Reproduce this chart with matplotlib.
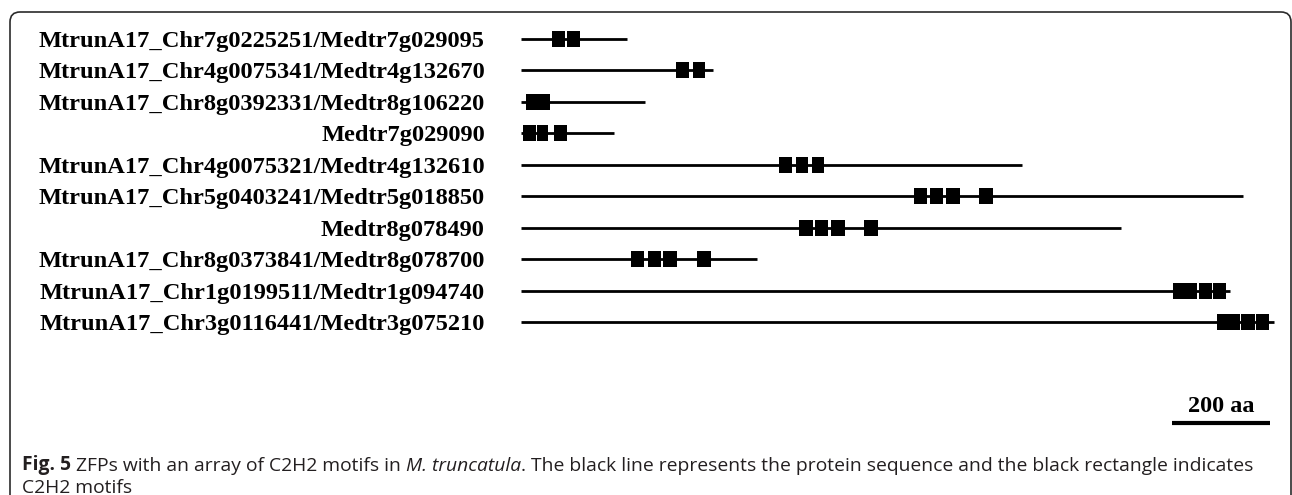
import numpy as np
import matplotlib.pyplot as plt
from matplotlib.patches import FancyBboxPatch

# protein names, lengths (aa) and C2H2 motif spans (aa)
genes = [
    "MtrunA17_Chr7g0225251/Medtr7g029095",
    "MtrunA17_Chr4g0075341/Medtr4g132670",
    "MtrunA17_Chr8g0392331/Medtr8g106220",
    "Medtr7g029090",
    "MtrunA17_Chr4g0075321/Medtr4g132610",
    "MtrunA17_Chr5g0403241/Medtr5g018850",
    "Medtr8g078490",
    "MtrunA17_Chr8g0373841/Medtr8g078700",
    "MtrunA17_Chr1g0199511/Medtr1g094740",
    "MtrunA17_Chr3g0116441/Medtr3g075210",
]
lengths = [216, 391, 253, 190, 1022, 1473, 1224, 481, 1447, 1537]
motifs = [
    [(64, 90), (94, 120)],
    [(316, 343), (350, 376)],
    [(10, 35), (35, 59)],
    [(5, 31), (32, 56), (68, 93)],
    [(527, 554), (561, 586), (593, 619)],
    [(802, 829), (835, 861), (867, 895), (935, 963)],
    [(567, 595), (600, 627), (633, 661), (701, 729)],
    [(224, 252), (259, 285), (290, 318), (360, 388)],
    [(1331, 1355), (1355, 1379), (1383, 1410), (1412, 1439)],
    [(1420, 1444), (1444, 1467), (1470, 1497), (1500, 1527)],
]
scale_len = 200
scale_start = 1329
scale_label = "200 aa"

caption_bold = "Fig. 5"
caption_a = " ZFPs with an array of C2H2 motifs in "
caption_it = "M. truncatula"
caption_b = ". The black line represents the protein sequence and the black rectangle indicates"
caption_2 = "C2H2 motifs"

W, H = 1292, 495
fig = plt.figure(figsize=(W / 100, H / 100), dpi=100)

# rounded frame around the figure panel
frame = FancyBboxPatch((0.10, -0.3), 12.81, 4.83 + 0.3,
                       boxstyle="round,pad=0,rounding_size=0.1",
                       transform=fig.dpi_scale_trans, fill=False,
                       edgecolor="#2b2b2b", linewidth=1.2)
fig.patches.append(frame)

# axes: x in aa, y in rows
px_per_aa = 0.49
row0, row_step = 39, 31.44
ax = fig.add_axes([521 / W, 1 - 440 / H, 759 / W, 420 / H])
ax.set_xlim(0, 759 / px_per_aa)
ax.set_ylim((440 - row0) / row_step, (20 - row0) / row_step)

rows = np.arange(len(genes))
ax.hlines(rows, 0, lengths, color="black", linewidth=2)
box_h = 16 / row_step
for r, ms in zip(rows, motifs):
    starts = [m[0] for m in ms]
    widths = [m[1] - m[0] for m in ms]
    ax.barh([r] * len(ms), widths, left=starts, height=box_h,
            color="black", edgecolor="none")

# scale bar
sb_row = (423 - row0) / row_step
ax.hlines(sb_row, scale_start, scale_start + scale_len, color="black", linewidth=3)
ax.text(scale_start + scale_len / 2, sb_row - 0.36, scale_label, ha="center",
        va="baseline", fontfamily="Liberation Serif", fontweight="bold", fontsize=17.5)

ax.set_yticks(rows)
ax.set_yticklabels(genes, fontfamily="Liberation Serif", fontweight="bold", fontsize=17.6)
ax.tick_params(axis="y", length=0, pad=26)
ax.set_xticks([])
for s in ax.spines.values():
    s.set_visible(False)

# caption
cap_kw = dict(fontfamily="Open Sans", fontsize=13.9, color="#231f20")
t = fig.text(22 / W, 1 - 470 / H, caption_bold, va="baseline", fontweight="bold", **cap_kw)
t = ax.annotate(caption_a, xy=(1, 0), xycoords=t, va="bottom", **cap_kw)
t = ax.annotate(caption_it, xy=(1, 0), xycoords=t, va="bottom", fontstyle="italic", **cap_kw)
t = ax.annotate(caption_b, xy=(1, 0), xycoords=t, va="bottom", **cap_kw)
fig.text(22 / W, 1 - 493 / H, caption_2, va="baseline", **cap_kw)

fig.savefig("out.png", dpi=100)
